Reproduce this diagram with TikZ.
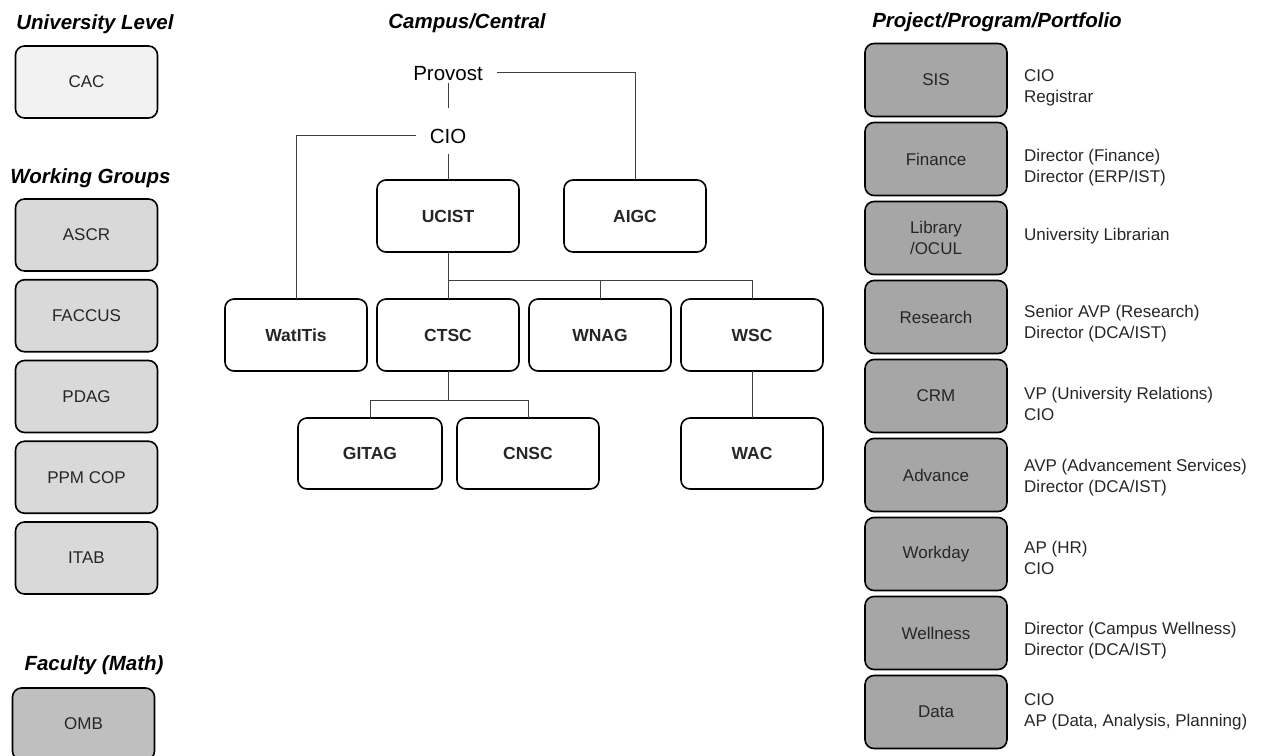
\documentclass[tikz,border=0pt]{standalone}
\usepackage{fontspec}
\setmainfont{Liberation Sans}
\usetikzlibrary{positioning}
\definecolor{unigray}{HTML}{F2F2F2}
\definecolor{wggray}{HTML}{D9D9D9}
\definecolor{facgray}{HTML}{BFBFBF}
\definecolor{projgray}{HTML}{A6A6A6}
\definecolor{textgray}{HTML}{262626}
\definecolor{linegray}{HTML}{3F3F3F}
\tikzset{group node/.style={rectangle,rounded corners=9pt,draw=black,line width=1.6pt,minimum width=142pt,minimum height=72pt,inner sep=0pt,outer sep=0pt,text=textgray,align=center,font=\fontsize{17}{21}\selectfont}}
\tikzset{proj node/.style={group node,fill=projgray,minimum height=73pt}}
\tikzset{central node/.style={group node,fill=white,font=\fontsize{17.5}{21}\selectfont\bfseries}}
\tikzset{head/.style={anchor=base,inner sep=0pt,font=\fontsize{20.5}{24}\selectfont\bfseries\itshape}}
\tikzset{post/.style={inner xsep=14pt,inner ysep=3pt,text height=15pt,text depth=0pt,font=\fontsize{20.5}{24}\selectfont}}
\tikzset{role/.style={inner sep=0pt,align=left,text=textgray,font=\fontsize{17}{21}\selectfont}}
\tikzset{link/.style={draw=linegray,line width=0.9pt}}

\begin{document}
\begin{tikzpicture}[x=1pt,y=-1pt]
            \useasboundingbox (0,0) rectangle (1266,755);

            % left column
            \node[head] (uhead) at (95,29) {University Level};
            \node[group node,fill=unigray] (cac) at (86.5,82) {CAC};

            \node[head] (whead) at (90.5,183) {Working Groups};
            \node[group node,fill=wggray] (ascr) at (86.5,235) {ASCR};
            \node[group node,fill=wggray] (faccus) [below=8.75pt of ascr] {FACCUS};
            \node[group node,fill=wggray] (pdag) [below=8.75pt of faccus] {PDAG};
            \node[group node,fill=wggray] (ppm) [below=8.75pt of pdag] {PPM COP};
            \node[group node,fill=wggray] (itab) [below=8.75pt of ppm] {ITAB};

            \node[head] (fhead) at (94,670) {Faculty (Math)};
            \node[group node,fill=facgray] (omb) at (83.5,724) {OMB};

            % campus / central
            \node[head] (chead) at (467,28.5) {Campus/Central};
            \node[post] (provost) at (448,72.5) {Provost};
            \node[post] (cio) at (448,135.5) {CIO};
            \node[central node] (ucist) at (448,216) {UCIST};
            \node[central node] (aigc) at (635,216) {AIGC};

            \node[central node] (watitis) at (296,335) {WatITis};
            \node[central node] (ctsc) [right=10pt of watitis] {CTSC};
            \node[central node] (wnag) [right=10pt of ctsc] {WNAG};
            \node[central node] (wsc) [right=10pt of wnag] {WSC};

            \node[central node,minimum width=144pt,minimum height=71pt] (gitag) at (370,453.5) {GITAG};
            \node[central node,minimum height=71pt] (cnsc) [right=15pt of gitag] {CNSC};
            \node[central node,minimum height=71pt] (wac) [below=47pt of wsc] {WAC};

            \coordinate (ucbus) at (448,280);
            \coordinate (ctbus) at (448,400);

            \path[link]
            (provost) -| (aigc)
            (cio) -| (watitis)
            (ucist) -- (ctsc)
            (ucbus) -| (wnag)
            (ucbus) -| (wsc)
            (ctsc) -- (ctbus) -| (gitag)
            (ctbus) -| (cnsc)
            (wsc) -- (wac);
            \draw[link,shorten >=17pt] (provost) -- (cio);
            \draw[link,shorten <=8pt] (cio) -- (ucist);

            % project / program / portfolio
            \node[head] (phead) at (997,27) {Project/Program/Portfolio};
            \node[proj node] (sis) at (936,80) {SIS};
            \node[proj node] (finance) [below=6pt of sis] {Finance};
            \node[proj node] (library) [below=6pt of finance] {Library\\/OCUL};
            \node[proj node] (research) [below=6pt of library] {Research};
            \node[proj node] (crm) [below=6pt of research] {CRM};
            \node[proj node] (advance) [below=6pt of crm] {Advance};
            \node[proj node] (workday) [below=6pt of advance] {Workday};
            \node[proj node] (wellness) [below=6pt of workday] {Wellness};
            \node[proj node] (data) [below=6pt of wellness] {Data};

            \node[role] (sisrole) [right=17pt of sis,yshift=-8pt] {CIO\\Registrar};
            \node[role] (financerole) [right=17pt of finance,yshift=-9pt] {Director (Finance)\\Director (ERP/IST)};
            \node[role] (libraryrole) [right=17pt of library,yshift=2pt] {University Librarian};
            \node[role] (researchrole) [right=17pt of research,yshift=-7pt] {Senior AVP (Research)\\Director (DCA/IST)};
            \node[role] (crmrole) [right=17pt of crm,yshift=-8pt] {VP (University Relations)\\CIO};
            \node[role] (advancerole) [right=17pt of advance,yshift=-3pt] {AVP (Advancement Services)\\Director (DCA/IST)};
            \node[role] (workdayrole) [right=17pt of workday,yshift=-4pt] {AP (HR)\\CIO};
            \node[role] (wellnessrole) [right=17pt of wellness,yshift=-8pt] {Director (Campus Wellness)\\Director (DCA/IST)};
            \node[role] (datarole) [right=17pt of data] {CIO\\AP (Data, Analysis, Planning)};
\end{tikzpicture}
\end{document}
